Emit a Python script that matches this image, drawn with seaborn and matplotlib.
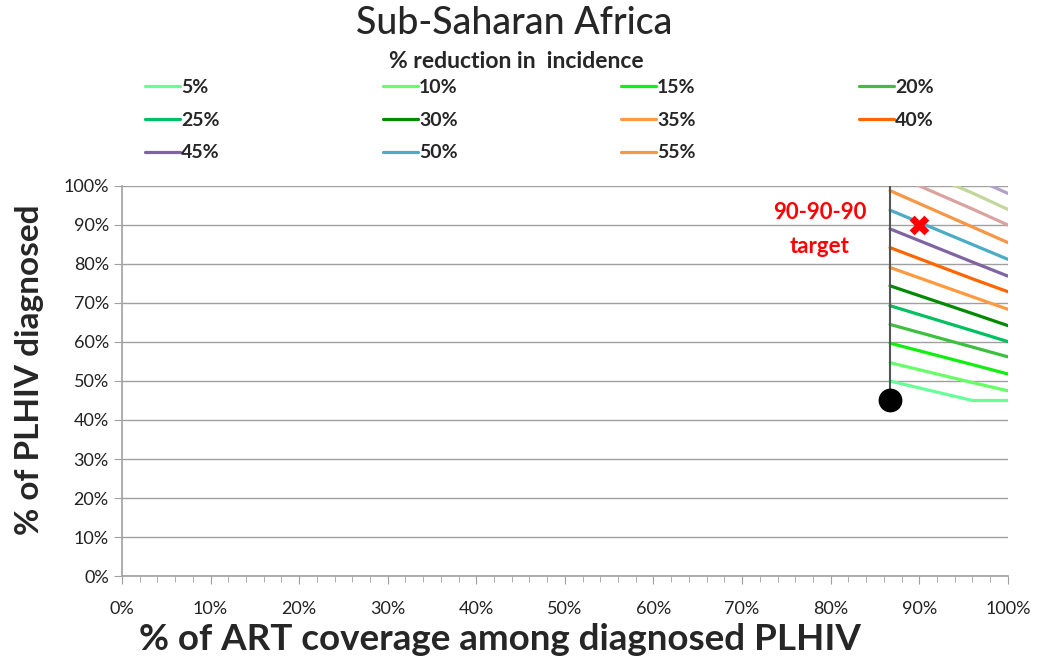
import numpy as np
import pandas as pd
import matplotlib
matplotlib.use("Agg")
import matplotlib.pyplot as plt
import seaborn as sns
from matplotlib.ticker import MultipleLocator, PercentFormatter

# ART coverage (x, %) where each iso-reduction line is read
coverage = [86.7, 96.0, 100.0]

# % diagnosed (y) along each line
reduction_labels = ["5%", "10%", "15%", "20%", "25%", "30%", "35%",
                    "40%", "45%", "50%", "55%", "60%", "65%", "70%"]
diagnosed = [
    [50.0, 45.0, 45.0],
    [54.7, 49.6, 47.5],
    [59.7, 54.2, 51.8],
    [64.5, 58.7, 56.2],
    [69.3, 62.9, 60.1],
    [74.4, 67.3, 64.2],
    [79.1, 71.6, 68.4],
    [84.2, 76.2, 72.9],
    [89.0, 80.5, 76.9],
    [93.8, 85.0, 81.2],
    [98.8, 89.5, 85.5],
    [103.3, 94.1, 90.0],
    [107.2, 98.2, 94.0],
    [111.5, 102.2, 98.1],
]
line_colors = ["#66ff99", "#66ff66", "#11ee11", "#3fbf3f", "#00c060", "#008a00",
               "#ff9a40", "#ff6600", "#8064a2", "#4bacc6", "#f79646",
               "#d9a3a0", "#c3d69b", "#b3a2c7"]
n_legend = 11  # only the first 11 levels appear in the legend

current_point = (86.7, 45.0)
target_point = (90.0, 90.0)

rows = []
for lab, ys in zip(reduction_labels, diagnosed):
    for x, y in zip(coverage, ys):
        rows.append({"level": lab, "x": x, "y": y})
df = pd.DataFrame(rows)

sns.set_style("white")
plt.rcParams["font.family"] = ["Lato", "DejaVu Sans"]

fig = plt.figure(figsize=(10.39, 6.68), dpi=100)
ax = fig.add_axes([0.1174, 0.1377, 0.8526, 0.5839])

sns.lineplot(data=df, x="x", y="y", hue="level", hue_order=reduction_labels,
             palette=line_colors, linewidth=2.3, ax=ax, legend=False, sort=False)

# vertical line at current ART coverage
ax.plot([current_point[0], current_point[0]], [current_point[1], 100],
        color="#555555", linewidth=1.5, zorder=3)
ax.scatter([current_point[0]], [current_point[1]], s=260, color="black", zorder=5)
ax.scatter([target_point[0]], [target_point[1]], s=200, marker="X",
           color="red", linewidths=0, zorder=6)
ax.text(78.8, 88.8, "90-90-90\ntarget", color="red", fontsize=16,
        fontweight="bold", ha="center", va="center", linespacing=1.8)

ax.set_xlim(0, 100)
ax.set_ylim(0, 100)
ax.xaxis.set_major_locator(MultipleLocator(10))
ax.xaxis.set_minor_locator(MultipleLocator(2))
ax.yaxis.set_major_locator(MultipleLocator(10))
ax.xaxis.set_major_formatter(PercentFormatter(decimals=0))
ax.yaxis.set_major_formatter(PercentFormatter(decimals=0))
ax.grid(axis="y", color="#a0a0a0", linewidth=1)
ax.set_axisbelow(True)
for side in ["top", "right"]:
    ax.spines[side].set_visible(False)
for side in ["left", "bottom"]:
    ax.spines[side].set_color("#a0a0a0")
    ax.spines[side].set_linewidth(1.2)
ax.tick_params(axis="both", which="major", direction="out", length=6,
               color="#a0a0a0", labelsize=13, labelcolor="#222222")
ax.tick_params(axis="x", which="major", pad=12)
ax.tick_params(axis="x", which="minor", direction="out", length=4, color="#a0a0a0")
ax.tick_params(axis="y", left=True)
ax.tick_params(axis="x", bottom=True, which="both")

ax.set_xlabel("")
ax.set_ylabel("")
fig.text(500 / 1039, 1 - 640 / 668, "% of ART coverage among diagnosed PLHIV",
         fontsize=26.5, fontweight="bold", ha="center", va="center")
fig.text(30 / 1039, 1 - 370 / 668, "% of PLHIV diagnosed", fontsize=24,
         fontweight="bold", ha="center", va="center", rotation=90)

fig.text(0.495, 1 - 24 / 668, "Sub-Saharan Africa", fontsize=27,
         fontweight="medium", ha="center", va="center")
fig.text(0.497, 1 - 62 / 668, "% reduction in  incidence", fontsize=16.5,
         fontweight="bold", ha="center", va="center")

# legend filled row by row (matplotlib fills columns first)
order = [0, 4, 8, 1, 5, 9, 2, 6, 10, 3, 7]
lines = ax.get_lines()
handles = [lines[i] for i in order]
labels = [reduction_labels[i] for i in order]
fig.legend(handles, labels, ncols=4, loc="upper left",
           bbox_to_anchor=(0.123, 0.9075), frameon=False, handlelength=1.8,
           handletextpad=0.05, columnspacing=8.4, labelspacing=0.8,
           prop={"weight": "bold", "size": 14})

fig.savefig("out.png", dpi=100)
